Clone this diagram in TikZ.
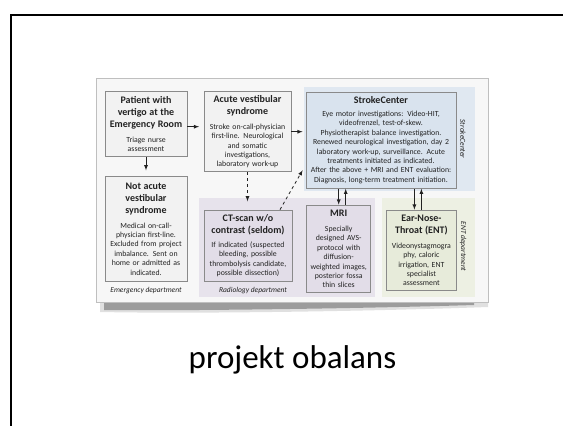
\documentclass[tikz,border=0pt]{standalone}
\usepackage{fontspec}
\setmainfont{Carlito}
\usetikzlibrary{calc}

\definecolor{inkgray}{HTML}{222222}
\definecolor{boxline}{HTML}{8A8A8A}
\definecolor{paperfill}{HTML}{F7F7F7}
\definecolor{plainbox}{HTML}{F2F2F2}
\definecolor{strokebg}{HTML}{E0E8F1}
\definecolor{strokebox}{HTML}{D9E3EE}
\definecolor{radbg}{HTML}{E7E3EC}
\definecolor{radbox}{HTML}{E2DDE8}
\definecolor{entbg}{HTML}{EDF0E3}
\definecolor{entbox}{HTML}{E7EBDA}

\newcommand{\hd}[2][5.6pt]{{\fontsize{10}{12}\selectfont\bfseries #2\par}\vspace{#1}}

\begin{document}
\begin{tikzpicture}[x=1pt,y=-1pt,
  box/.style={draw=boxline,fill=#1,line width=0.8pt,rectangle,align=center,inner sep=3pt,text=inkgray,
    font=\fontsize{7.8}{9.4}\selectfont,execute at begin node={\setlength{\parindent}{0pt}}},
  dept/.style={text=inkgray,font=\fontsize{7.5}{9}\selectfont\itshape},
  link/.style={->,>=latex,line width=0.8pt,draw=inkgray}]
\useasboundingbox (0,0) rectangle (563,426);

\draw[line width=2pt] (563,15) -- (11,15) -- (11,426);

% sheet with its shadow
\fill[gray!60,opacity=0.4] (100,300) -- (488,300) -- (488,307) .. controls (380,311) and (200,314) .. (100,312) -- cycle;
\fill[gray!70!black,opacity=0.5] (104,300) -- (474,300) -- (474,305) .. controls (380,308) and (200,311) .. (104,310) -- cycle;
\draw[draw=gray!50,fill=paperfill,line width=0.6pt] (96,78) rectangle (488,302);

% departments
\fill[strokebg] (304,86.5) rectangle (475,190.7);
\fill[radbg] (199,198) rectangle (375,297);
\fill[entbg] (381.7,198) rectangle (475,297);

\node[dept] (emlabel) at (146,291) {Emergency department};
\node[dept] (radlabel) at (253,291) {Radiology department};
\node[dept,rotate=-90] (sclabel) at (463,139) {StrokeCenter};
\node[dept,rotate=-90] (entlabel) at (463,246.5) {ENT department};

\node[box=plainbox,text width=76pt,minimum height=65pt] (patient) at (146,124.2)
  {\hd{Patient with\\vertigo at the\\Emergency Room}Triage nurse\\assessment};
\node[box=plainbox,text width=76pt,minimum height=105.7pt] (notacute) at (146,228.9)
  {\hd{Not acute\\vestibular\\syndrome}Medical on-call-\\physician first-line.\\Excluded from project\\imbalance. Sent on\\home or admitted as\\indicated.};
\node[box=plainbox,text width=81pt,minimum height=80pt] (acute) at (247.5,131.7)
  {\hd{Acute vestibular\\syndrome}Stroke on-call-physician\\first-line. Neurological\\and somatic\\investigations,\\laboratory work-up};
\node[box=radbox,text width=82pt,minimum height=71.7pt] (ctscan) at (248,245.9)
  {\hd[4pt]{CT-scan w/o\\contrast (seldom)}If indicated (suspected\\bleeding, possible\\thrombolysis candidate,\\possible dissection)};
\node[box=strokebox,text width=144pt,minimum height=96.3pt] (stroke) at (381,140.2)
  {\hd[3.3pt]{StrokeCenter}Eye motor investigations: Video-HIT,\\videofrenzel, test-of-skew.\\Physiotherapist balance investigation.\\Renewed neurological investigation, day 2\\laboratory work-up, surveillance. Acute\\treatments initiated as indicated.\\After the above + MRI and ENT evaluation:\\Diagnosis, long-term treatment initiation.};
\node[box=radbox,text width=58pt,minimum height=87.7pt] (mri) at (338.7,248.9)
  {\hd{MRI}Specially\\designed AVS-\\protocol with\\diffusion-\\weighted images,\\posterior fossa\\thin slices};
\node[box=entbox,text width=64.7pt,minimum height=80.7pt] (ent) at (421.4,250.4)
  {\hd{Ear-Nose-\\Throat (ENT)}Videonystagmogra\\phy, caloric\\irrigation, ENT\\specialist\\assessment};

\coordinate (ctout) at ($(ctscan.north)+(32,0)$);
\coordinate (scin) at ($(stroke.west)+(-3,30)$);

\draw[link,shorten >=4.5pt] ($(patient.east)+(0,2.5)$) -- ($(patient.east -| acute.west)+(0,2.5)$);
\draw[link,shorten >=5.3pt] (patient.south) -- (notacute.north);
\draw[link,shorten >=3pt] (acute.east) -- (acute.east -| stroke.west);
\draw[link,dashed,shorten >=8.3pt] (acute.south) -- (acute.south |- ctscan.north);
\draw[link,dashed] (ctout) -- (scin);
\draw[link] (stroke.south -| mri.north) -- (mri.north);
\draw[link] ($(mri.north)+(7,0)$) -- ($(mri.north |- stroke.south)+(7,0)$);
\draw[link] ($(ent.north |- stroke.south)+(-7,0)$) -- ($(ent.north)+(-7,0)$);
\draw[link] (ent.north) -- (ent.north |- stroke.south);

\node[font=\fontsize{33}{40}\selectfont,anchor=base] (title) at (292.5,368) {projekt obalans};

\end{tikzpicture}
\end{document}
